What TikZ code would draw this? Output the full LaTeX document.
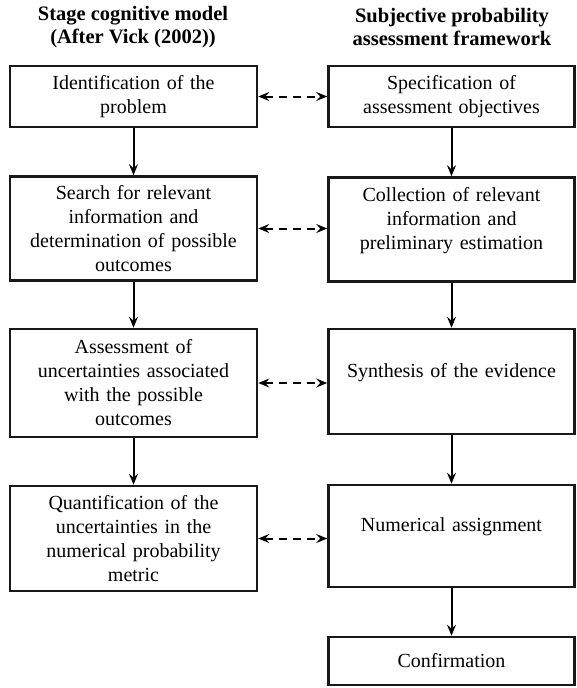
\documentclass[tikz,border=0pt]{standalone}
\usepackage{fontspec}
\setmainfont{Liberation Serif}
\usetikzlibrary{arrows.meta}
\begin{document}
\begin{tikzpicture}[x=1pt,y=-1pt,
  box/.style={draw=black!90, line width=2.6pt, align=center, font=\fontsize{20}{24}\selectfont, inner sep=0pt, text width=238pt},
  title/.style={align=center, font=\fontsize{20.5}{23}\selectfont\bfseries},
  flow/.style={line width=2pt, -{Stealth[length=11pt,width=9pt,inset=4pt]}},
  link/.style={line width=2pt, dash pattern=on 8pt off 6pt, {Stealth[length=11pt,width=9pt,inset=4pt]}-{Stealth[length=11pt,width=9pt,inset=4pt]}}
]
\useasboundingbox (0,0) rectangle (576,688);
\node[title] (tl) at (133,27) {Stage cognitive model\\(After Vick (2002))};
\node[title] (tr) at (452,27) {Subjective probability\\assessment framework};

\node[box, minimum width=247pt, minimum height=61pt] (L1) at (133.5,96.5) {Identification of the\\problem};
\node[box, minimum width=246pt, minimum height=61pt] (R1) at (451.5,96.5) {Specification of\\assessment objectives};

\node[box, minimum width=247pt, minimum height=104pt] (L2) at (133.5,228.5) {Search for relevant\\information and\\determination of possible\\outcomes};
\node[box, minimum width=246pt, minimum height=104pt] (R2) at (451.5,229.5) {Collection of relevant\\information and\\preliminary estimation\\[-2pt]\mbox{}};

\node[box, minimum width=247pt, minimum height=108pt] (L3) at (133.5,383) {Assessment of\\uncertainties associated\\with the possible\\outcomes};
\node[box, minimum width=246pt, minimum height=105pt] (R3) at (451.5,381.5) {Synthesis of the evidence\\[-2pt]\mbox{}};

\node[box, minimum width=247pt, minimum height=105pt] (L4) at (133.5,538.5) {Quantification of the\\uncertainties in the\\numerical probability\\metric};
\node[box, minimum width=246pt, minimum height=102pt] (R4) at (451.5,536) {Numerical assignment\\[-2pt]\mbox{}};

\node[box, minimum width=246pt, minimum height=48pt] (R5) at (451.5,661) {Confirmation};

\draw[flow] (L1) -- (L2);
\draw[flow] (L2) -- (L3);
\draw[flow] (L3) -- (L4);
\draw[flow] (R1) -- (R2);
\draw[flow] (R2) -- (R3);
\draw[flow] (R3) -- (R4);
\draw[flow] (R4) -- (R5);

\draw[link] (L1.east) -- (L1.east -| R1.west);
\draw[link] (L2.east) -- (L2.east -| R2.west);
\draw[link] (L3.east) -- (L3.east -| R3.west);
\draw[link] (L4.east) -- (L4.east -| R4.west);
\end{tikzpicture}
\end{document}
